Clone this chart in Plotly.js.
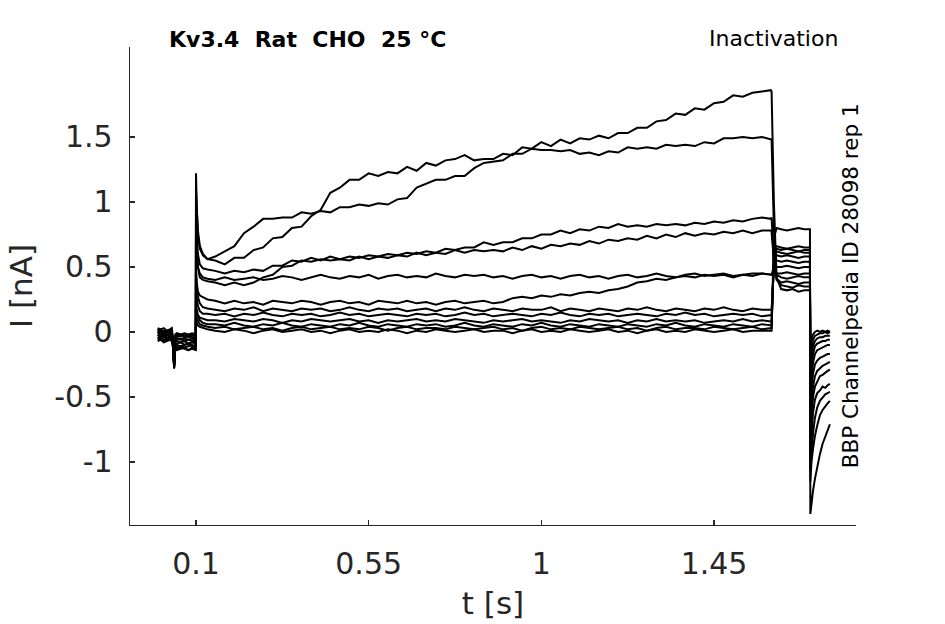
<!DOCTYPE html>
<html>
<head>
<meta charset="utf-8">
<script src="https://cdn.plot.ly/plotly-3.0.1.min.js"></script>
<style>
  body { margin: 0; background: #fff; }
  #myDiv { width: 945px; height: 624px; }
</style>
</head>
<body>
<div id="myDiv"></div>
<script>
// sweep time bases (s)
var tPre = [0, 0.008, 0.016, 0.024, 0.032, 0.037, 0.04, 0.043, 0.046, 0.05, 0.06, 0.07, 0.08, 0.09, 0.0995];
var tPulse = [0.1, 0.102, 0.105, 0.11, 0.118, 0.13,
  0.15, 0.175, 0.2, 0.225, 0.25, 0.275, 0.3, 0.325, 0.35, 0.375,
  0.4, 0.425, 0.45, 0.475, 0.5, 0.525, 0.55, 0.575, 0.6, 0.625,
  0.65, 0.675, 0.7, 0.725, 0.75, 0.775, 0.8, 0.825, 0.85, 0.875,
  0.9, 0.925, 0.95, 0.975, 1.0, 1.025, 1.05, 1.075, 1.1, 1.125,
  1.15, 1.175, 1.2, 1.225, 1.25, 1.275, 1.3, 1.325, 1.35, 1.375,
  1.4, 1.425, 1.45, 1.475, 1.5, 1.525, 1.55, 1.575, 1.598];
var tTest = [1.6, 1.606, 1.613, 1.625, 1.64, 1.655, 1.67, 1.685, 1.699];
var tTail = [1.7, 1.701, 1.704, 1.708, 1.713, 1.719, 1.726, 1.733, 1.74, 1.746, 1.752];

// current (nA), one row per sweep
var preI = [
  [0.02, 0.0, 0.01, -0.01, 0.01, 0.0, -0.07, -0.27, -0.05, -0.03, -0.02, -0.04, -0.03, -0.02, -0.03],
  [0.01, 0.02, 0.0, 0.01, 0.0, 0.01, -0.06, -0.26, -0.04, -0.02, -0.03, -0.02, -0.04, -0.03, -0.02],
  [-0.01, 0.0, -0.02, 0.0, -0.01, -0.02, -0.08, -0.28, -0.06, -0.05, -0.06, -0.05, -0.06, -0.05, -0.06],
  [0.0, -0.02, -0.01, -0.02, 0.0, -0.01, -0.07, -0.25, -0.06, -0.06, -0.05, -0.07, -0.06, -0.07, -0.06],
  [-0.03, -0.02, -0.04, -0.03, -0.02, -0.03, -0.09, -0.27, -0.08, -0.07, -0.08, -0.07, -0.09, -0.08, -0.07],
  [-0.02, -0.04, -0.03, -0.02, -0.04, -0.03, -0.09, -0.24, -0.09, -0.09, -0.08, -0.1, -0.09, -0.08, -0.09],
  [-0.04, -0.05, -0.03, -0.05, -0.04, -0.05, -0.1, -0.26, -0.1, -0.1, -0.11, -0.1, -0.09, -0.11, -0.1],
  [-0.05, -0.04, -0.06, -0.05, -0.06, -0.04, -0.1, -0.22, -0.11, -0.12, -0.11, -0.12, -0.11, -0.1, -0.12],
  [-0.06, -0.05, -0.07, -0.06, -0.05, -0.07, -0.11, -0.25, -0.12, -0.13, -0.12, -0.13, -0.14, -0.12, -0.13],
  [0.03, 0.02, 0.03, 0.01, 0.02, 0.03, -0.05, -0.23, -0.02, -0.01, -0.02, -0.01, -0.02, -0.01, -0.02],
  [-0.07, -0.06, -0.08, -0.07, -0.06, -0.07, -0.12, -0.28, -0.13, -0.14, -0.13, -0.12, -0.14, -0.13, -0.14],
  [0.0, 0.01, -0.01, 0.0, 0.01, -0.01, -0.06, -0.24, -0.03, -0.04, -0.03, -0.04, -0.03, -0.04, -0.04]
];

var pulseI = [
  [1.22, 0.95, 0.78, 0.66, 0.6, 0.56,
   0.55, 0.52, 0.57, 0.57, 0.63, 0.65, 0.72, 0.73, 0.8, 0.81,
   0.89, 0.94, 1.07, 1.11, 1.17, 1.17, 1.22, 1.2, 1.23, 1.22,
   1.27, 1.24, 1.3, 1.28, 1.32, 1.33, 1.36, 1.32, 1.33, 1.33,
   1.37, 1.36, 1.42, 1.41, 1.46, 1.43, 1.48, 1.45, 1.49, 1.48,
   1.51, 1.49, 1.53, 1.53, 1.57, 1.57, 1.62, 1.63, 1.68, 1.67,
   1.72, 1.71, 1.76, 1.77, 1.82, 1.81, 1.84, 1.85, 1.86],
  [1.1, 0.9, 0.74, 0.64, 0.59, 0.56,
   0.58, 0.62, 0.66, 0.76, 0.81, 0.87, 0.87, 0.88, 0.88, 0.92,
   0.91, 0.93, 0.92, 0.96, 0.96, 0.98, 0.97, 0.99, 0.98, 1.02,
   1.03, 1.11, 1.14, 1.17, 1.17, 1.2, 1.2, 1.26, 1.3, 1.31,
   1.32, 1.37, 1.37, 1.41, 1.4, 1.4, 1.39, 1.4, 1.37, 1.38,
   1.36, 1.39, 1.38, 1.42, 1.41, 1.42, 1.41, 1.44, 1.43, 1.44,
   1.43, 1.46, 1.45, 1.49, 1.49, 1.5, 1.49, 1.5, 1.48],
  [0.95, 0.75, 0.6, 0.52, 0.49, 0.48,
   0.47, 0.45, 0.47, 0.46, 0.48, 0.47, 0.51, 0.51, 0.55, 0.54,
   0.57, 0.55, 0.58, 0.56, 0.58, 0.57, 0.59, 0.58, 0.6, 0.59,
   0.61, 0.6, 0.62, 0.61, 0.64, 0.63, 0.65, 0.65, 0.69, 0.67,
   0.69, 0.69, 0.72, 0.72, 0.75, 0.75, 0.78, 0.76, 0.79, 0.78,
   0.81, 0.8, 0.83, 0.81, 0.82, 0.81, 0.83, 0.82, 0.83, 0.82,
   0.84, 0.83, 0.85, 0.84, 0.86, 0.85, 0.87, 0.88, 0.87],
  [0.85, 0.65, 0.5, 0.42, 0.4, 0.39,
   0.38, 0.36, 0.38, 0.36, 0.38, 0.42, 0.44, 0.5, 0.51, 0.55,
   0.54, 0.56, 0.55, 0.56, 0.55, 0.58, 0.56, 0.58, 0.57, 0.59,
   0.58, 0.61, 0.59, 0.61, 0.6, 0.63, 0.61, 0.63, 0.62, 0.63,
   0.62, 0.65, 0.63, 0.66, 0.64, 0.67, 0.66, 0.68, 0.67, 0.7,
   0.68, 0.71, 0.7, 0.72, 0.71, 0.74, 0.72, 0.75, 0.73, 0.76,
   0.74, 0.76, 0.75, 0.77, 0.76, 0.78, 0.76, 0.78, 0.78],
  [0.75, 0.6, 0.5, 0.45, 0.42, 0.41,
   0.4, 0.42, 0.4, 0.41, 0.42, 0.4, 0.41, 0.43, 0.42, 0.4,
   0.42, 0.44, 0.42, 0.41, 0.43, 0.42, 0.44, 0.41, 0.43, 0.44,
   0.42, 0.43, 0.42, 0.45, 0.43, 0.42, 0.44, 0.43, 0.44, 0.42,
   0.43, 0.41, 0.43, 0.44, 0.42, 0.43, 0.41, 0.43, 0.44, 0.42,
   0.43, 0.41, 0.43, 0.44, 0.42, 0.43, 0.45, 0.43, 0.42, 0.44,
   0.45, 0.43, 0.44, 0.45, 0.43, 0.44, 0.45, 0.45, 0.44],
  [0.5, 0.38, 0.31, 0.28, 0.27, 0.25,
   0.24, 0.22, 0.24, 0.22, 0.23, 0.21, 0.24, 0.23, 0.22, 0.24,
   0.23, 0.21, 0.23, 0.24, 0.22, 0.23, 0.21, 0.24, 0.23, 0.22,
   0.24, 0.22, 0.23, 0.21, 0.23, 0.24, 0.22, 0.23, 0.24, 0.22,
   0.23, 0.26, 0.27, 0.26, 0.28, 0.27, 0.29, 0.28, 0.3, 0.31,
   0.3, 0.32, 0.33, 0.35, 0.38, 0.39, 0.41, 0.4, 0.42, 0.43,
   0.42, 0.44, 0.43, 0.44, 0.42, 0.44, 0.43, 0.45, 0.44],
  [0.42, 0.35, 0.27, 0.22, 0.19, 0.18,
   0.17, 0.16, 0.18, 0.17, 0.19, 0.16, 0.18, 0.17, 0.16, 0.18,
   0.17, 0.18, 0.16, 0.17, 0.19, 0.17, 0.16, 0.18, 0.17, 0.18,
   0.16, 0.17, 0.18, 0.16, 0.18, 0.17, 0.19, 0.17, 0.16, 0.18,
   0.17, 0.16, 0.18, 0.17, 0.17, 0.19, 0.16, 0.18, 0.17, 0.16,
   0.18, 0.17, 0.16, 0.18, 0.17, 0.19, 0.17, 0.16, 0.18, 0.17,
   0.16, 0.18, 0.17, 0.19, 0.17, 0.16, 0.18, 0.17, 0.17],
  [0.32, 0.26, 0.2, 0.16, 0.14, 0.14,
   0.13, 0.14, 0.12, 0.14, 0.13, 0.15, 0.13, 0.12, 0.14, 0.13,
   0.14, 0.12, 0.13, 0.15, 0.13, 0.14, 0.12, 0.13, 0.14, 0.13,
   0.12, 0.14, 0.13, 0.14, 0.12, 0.13, 0.15, 0.13, 0.14, 0.12,
   0.13, 0.14, 0.13, 0.12, 0.14, 0.13, 0.15, 0.13, 0.12, 0.14,
   0.13, 0.14, 0.12, 0.13, 0.14, 0.13, 0.12, 0.14, 0.13, 0.15,
   0.13, 0.14, 0.12, 0.13, 0.14, 0.13, 0.14, 0.12, 0.13],
  [0.2, 0.16, 0.13, 0.11, 0.1, 0.09,
   0.09, 0.08, 0.1, 0.09, 0.08, 0.1, 0.09, 0.07, 0.09, 0.08,
   0.1, 0.09, 0.08, 0.09, 0.1, 0.08, 0.09, 0.07, 0.09, 0.08,
   0.09, 0.1, 0.08, 0.09, 0.08, 0.1, 0.09, 0.08, 0.07, 0.09,
   0.08, 0.09, 0.1, 0.08, 0.09, 0.08, 0.07, 0.09, 0.08, 0.1,
   0.09, 0.08, 0.09, 0.07, 0.09, 0.08, 0.1, 0.08, 0.09, 0.08,
   0.09, 0.07, 0.08, 0.09, 0.08, 0.1, 0.08, 0.09, 0.08],
  [0.15, 0.13, 0.11, 0.09, 0.07, 0.06,
   0.06, 0.05, 0.07, 0.05, 0.04, 0.06, 0.05, 0.07, 0.05, 0.04,
   0.06, 0.05, 0.04, 0.06, 0.05, 0.07, 0.05, 0.04, 0.06, 0.05,
   0.04, 0.06, 0.05, 0.06, 0.04, 0.05, 0.07, 0.05, 0.04, 0.06,
   0.05, 0.04, 0.06, 0.05, 0.07, 0.05, 0.04, 0.06, 0.05, 0.04,
   0.06, 0.05, 0.04, 0.06, 0.05, 0.04, 0.06, 0.05, 0.07, 0.05,
   0.04, 0.06, 0.05, 0.04, 0.06, 0.05, 0.04, 0.06, 0.05],
  [0.12, 0.1, 0.08, 0.06, 0.05, 0.04,
   0.03, 0.04, 0.02, 0.03, 0.04, 0.02, 0.03, 0.01, 0.03, 0.04,
   0.02, 0.03, 0.04, 0.02, 0.03, 0.02, 0.04, 0.03, 0.01, 0.03,
   0.04, 0.02, 0.03, 0.03, 0.02, 0.04, 0.03, 0.02, 0.03, 0.04,
   0.02, 0.03, 0.01, 0.03, 0.04, 0.02, 0.03, 0.02, 0.04, 0.03,
   0.02, 0.03, 0.04, 0.02, 0.03, 0.01, 0.03, 0.04, 0.02, 0.03,
   0.03, 0.02, 0.04, 0.03, 0.02, 0.03, 0.04, 0.02, 0.03],
  [0.08, 0.07, 0.05, 0.04, 0.03, 0.02,
   0.01, 0.0, 0.02, 0.01, -0.01, 0.01, 0.02, 0.0, 0.01, 0.02,
   0.0, 0.01, -0.01, 0.01, 0.02, 0.0, 0.01, 0.0, 0.02, 0.01,
   -0.01, 0.01, 0.0, 0.02, 0.01, 0.0, 0.01, 0.02, 0.0, 0.01,
   0.01, -0.01, 0.01, 0.02, 0.0, 0.01, 0.0, 0.02, 0.01, 0.0,
   0.01, 0.02, 0.0, 0.01, -0.01, 0.01, 0.02, 0.0, 0.01, 0.0,
   0.02, 0.01, 0.0, 0.01, 0.02, 0.0, 0.01, 0.01, 0.01]
];

var testI = [
  [1.85, 1.0, 0.42, 0.33, 0.32, 0.33, 0.31, 0.32, 0.32],
  [1.48, 0.8, 0.4, 0.36, 0.35, 0.34, 0.36, 0.35, 0.35],
  [0.88, 0.55, 0.41, 0.38, 0.39, 0.38, 0.37, 0.38, 0.38],
  [0.77, 0.55, 0.44, 0.42, 0.41, 0.42, 0.43, 0.42, 0.42],
  [0.44, 0.46, 0.45, 0.45, 0.46, 0.45, 0.44, 0.45, 0.45],
  [0.44, 0.5, 0.5, 0.5, 0.51, 0.5, 0.49, 0.5, 0.5],
  [0.17, 0.5, 0.55, 0.54, 0.55, 0.54, 0.53, 0.54, 0.54],
  [0.13, 0.52, 0.59, 0.58, 0.59, 0.58, 0.57, 0.58, 0.58],
  [0.08, 0.55, 0.62, 0.61, 0.6, 0.61, 0.62, 0.61, 0.61],
  [0.05, 0.58, 0.64, 0.63, 0.64, 0.63, 0.62, 0.63, 0.63],
  [0.03, 0.6, 0.66, 0.65, 0.64, 0.65, 0.66, 0.65, 0.65],
  [0.01, 0.72, 0.8, 0.79, 0.78, 0.79, 0.8, 0.79, 0.79]
];

var tailI = [
  [0.32, -0.15, -0.06, -0.02, 0.0, 0.01, 0.0, 0.01, 0.0, 0.01, 0.0],
  [0.35, -0.25, -0.12, -0.06, -0.03, -0.02, -0.01, -0.01, 0.0, -0.01, 0.0],
  [0.38, -0.35, -0.2, -0.11, -0.07, -0.05, -0.04, -0.04, -0.03, -0.03, -0.03],
  [0.42, -0.45, -0.28, -0.17, -0.11, -0.09, -0.08, -0.07, -0.07, -0.06, -0.06],
  [0.45, -0.55, -0.35, -0.24, -0.17, -0.14, -0.13, -0.12, -0.11, -0.1, -0.1],
  [0.5, -0.65, -0.45, -0.32, -0.25, -0.22, -0.2, -0.19, -0.18, -0.17, -0.17],
  [0.54, -0.75, -0.55, -0.42, -0.34, -0.3, -0.28, -0.26, -0.25, -0.24, -0.23],
  [0.58, -0.85, -0.65, -0.5, -0.42, -0.38, -0.34, -0.33, -0.31, -0.3, -0.29],
  [0.61, -0.95, -0.78, -0.62, -0.52, -0.47, -0.45, -0.42, -0.43, -0.41, -0.4],
  [0.63, -1.05, -0.9, -0.78, -0.66, -0.58, -0.53, -0.5, -0.48, -0.47, -0.46],
  [0.65, -1.15, -1.0, -0.9, -0.8, -0.72, -0.64, -0.6, -0.57, -0.55, -0.53],
  [0.79, -1.4, -1.3, -1.22, -1.13, -1.03, -0.94, -0.86, -0.8, -0.75, -0.71]
];

var xTicks = [0.1, 0.55, 1, 1.45];
var xTickText = ["0.1", "0.55", "1", "1.45"];
var yTicks = [-1, -0.5, 0, 0.5, 1, 1.5];
var yTickText = ["-1", "-0.5", "0", "0.5", "1", "1.5"];

var tAll = tPre.concat(tPulse, tTest, tTail);
var data = [];
for (var i = 0; i < preI.length; i++) {
  data.push({
    x: tAll,
    y: preI[i].concat(pulseI[i], testI[i], tailI[i]),
    type: "scatter",
    mode: "lines",
    line: { color: "#000", width: 2 },
    hoverinfo: "skip"
  });
}

var axisFont = { family: "DejaVu Sans", size: 30, color: "#262626" };
var layout = {
  width: 945,
  height: 624,
  margin: { l: 130, r: 89, t: 47, b: 99 },
  paper_bgcolor: "#fff",
  plot_bgcolor: "#fff",
  showlegend: false,
  font: { family: "DejaVu Sans", color: "#262626" },
  xaxis: {
    range: [-0.072, 1.82],
    showgrid: false,
    zeroline: false,
    showline: true,
    linecolor: "#262626",
    linewidth: 1.3,
    ticks: "inside",
    ticklen: 5,
    tickwidth: 1.3,
    tickcolor: "#262626",
    tickvals: xTicks,
    ticktext: xTickText,
    tickfont: axisFont,
    ticklabelstandoff: 12,
    title: { text: "t [s]", font: { family: "DejaVu Sans", size: 31, color: "#262626" }, standoff: 12 }
  },
  yaxis: {
    range: [-1.485, 2.192],
    showgrid: false,
    zeroline: false,
    showline: true,
    linecolor: "#262626",
    linewidth: 1.3,
    ticks: "inside",
    ticklen: 5,
    tickwidth: 1.3,
    tickcolor: "#262626",
    tickvals: yTicks,
    ticktext: yTickText,
    tickfont: axisFont,
    ticklabelstandoff: 10,
    title: { text: "I [nA]", font: { family: "DejaVu Sans", size: 31, color: "#262626" }, standoff: 12 }
  },
  annotations: [
    {
      text: "<b>Kv3.4\u00a0\u00a0Rat\u00a0\u00a0CHO\u00a0\u00a025\u00a0°C</b>",
      xref: "paper", yref: "paper", x: 0.244, y: 1.015,
      xanchor: "center", yanchor: "middle", showarrow: false,
      font: { family: "DejaVu Sans", size: 22, color: "#000" }
    },
    {
      text: "Inactivation",
      xref: "paper", yref: "paper", x: 0.886, y: 1.017,
      xanchor: "center", yanchor: "middle", showarrow: false,
      font: { family: "DejaVu Sans", size: 22, color: "#000" }
    },
    {
      text: "BBP Channelpedia ID 28098 rep 1",
      xref: "paper", yref: "paper", x: 0.992, y: 0.5,
      xanchor: "center", yanchor: "middle", showarrow: false, textangle: -90,
      font: { family: "DejaVu Sans", size: 21.5, color: "#000" }
    }
  ]
};

Plotly.newPlot("myDiv", data, layout, { displayModeBar: false, staticPlot: true });
</script>
</body>
</html>
